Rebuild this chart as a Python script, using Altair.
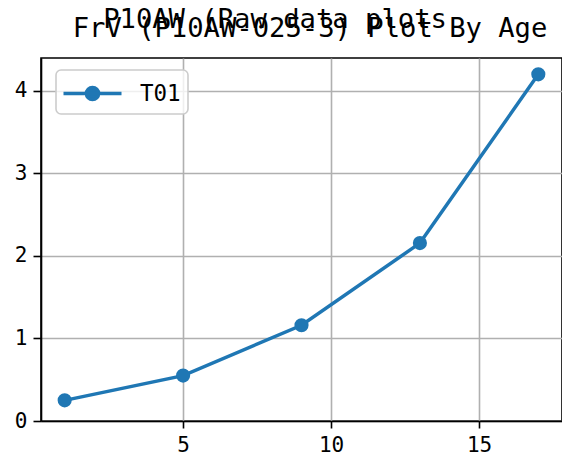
import altair as alt
import pandas as pd

ages = [1, 5, 9, 13, 17]
values = [0.25, 0.55, 1.16, 2.155, 4.2]
series = ["T01"] * len(ages)
x_ticks = [5, 10, 15]
y_ticks = [0, 1, 2, 3, 4]
title_line1 = "P10AW (Raw data plots"
title_line2 = "FrV (P10AW-025-3) Plot By Age"

df = pd.DataFrame({"age": ages, "value": values, "series": series})

FONT = "DejaVu Sans Mono"
BLUE = "#1f77b4"

x_enc = alt.X("age:Q",
              scale=alt.Scale(domain=[0.2, 17.8], nice=False, zero=False),
              axis=alt.Axis(values=x_ticks, title=None, format="d", tickSize=7,
                            labelPadding=6))
y_enc = alt.Y("value:Q",
              scale=alt.Scale(domain=[0, 4.3975], nice=False, zero=False),
              axis=alt.Axis(values=y_ticks, title=None, format="d", tickSize=8,
                            labelPadding=6))

line = alt.Chart(df).mark_line(
    strokeWidth=3.5,
    point=alt.OverlayMarkDef(size=200, filled=True, opacity=1),
).encode(
    x=x_enc,
    y=y_enc,
    color=alt.Color("series:N", scale=alt.Scale(range=[BLUE]),
                    legend=alt.Legend(title=None, orient="none", legendX=15, legendY=12)),
)

t1 = alt.Chart(pd.DataFrame({"t": [title_line1]})).mark_text(
    font=FONT, fontSize=27.2, align="center", baseline="alphabetic", color="black"
).encode(text="t:N", x=alt.value(234), y=alt.value(-30.5))

t2 = alt.Chart(pd.DataFrame({"t": [title_line2]})).mark_text(
    font=FONT, fontSize=27.2, align="center", baseline="alphabetic", color="black"
).encode(text="t:N", x=alt.value(269), y=alt.value(-21.5))

chart = alt.layer(line, t1, t2).properties(
    width=521, height=363,
    autosize=alt.AutoSizeParams(type="none"),
    padding={"left": 33, "top": 50, "right": 0, "bottom": 35},
).configure_view(
    stroke="black", strokeWidth=1.6
).configure_axis(
    labelFont=FONT, labelFontSize=21, labelColor="black",
    domainColor="black", domainWidth=1.6,
    tickColor="black", tickWidth=1.6,
    grid=True, gridColor="#b0b0b0", gridWidth=1.6,
).configure_legend(
    labelFont=FONT, labelFontSize=22.5, labelColor="black",
    symbolType="M-2,0H2M-0.42,0A0.42,0.42,0,1,1,0.42,0A0.42,0.42,0,1,1,-0.42,0Z",
    symbolSize=841, symbolStrokeWidth=3.5,
    symbolFillColor=BLUE, symbolStrokeColor=BLUE,
    symbolOffset=13, labelOffset=31,
    padding=7, fillColor="rgba(255,255,255,0.8)", strokeColor="#cccccc",
    cornerRadius=5, strokeWidth=1.6,
)

chart.save("out.html", embed_options={"renderer": "svg", "actions": False})
